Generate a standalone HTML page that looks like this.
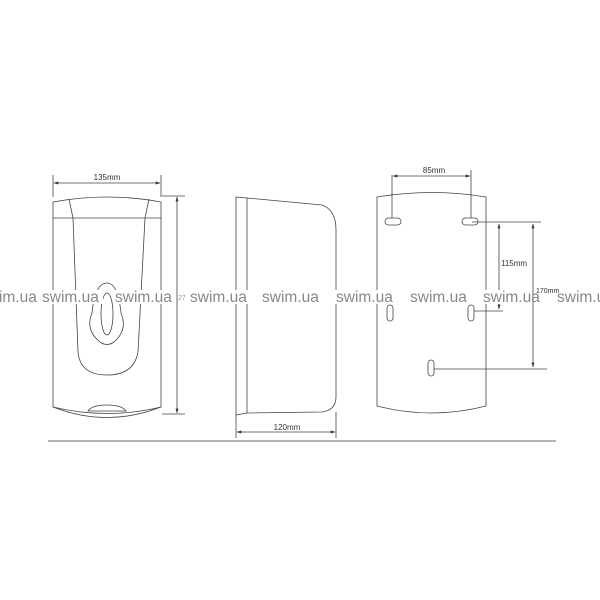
<!DOCTYPE html>
<html><head><style>body{margin:0;background:#fff}svg{display:block}
.w{font-family:"Liberation Sans",sans-serif;font-size:15.5px;fill:#888}</style></head><body>
<svg width="600" height="600" viewBox="0 0 600 600" fill="none" stroke="#444" stroke-width="0.8">
<defs><marker id="a" viewBox="0 0 10 10" refX="9" refY="5" markerWidth="6" markerHeight="6" orient="auto-start-reverse"><path d="M0,2 L10,5 L0,8z" fill="#333" stroke="none"/></marker></defs>
<!-- front -->
<line x1="53" y1="175" x2="53" y2="197"/><line x1="161" y1="175" x2="161" y2="197"/>
<line x1="54" y1="183" x2="160" y2="183" marker-start="url(#a)" marker-end="url(#a)"/>
<text x="107" y="180" font-family="Liberation Sans" font-size="8" fill="#333" stroke="none" text-anchor="middle">135mm</text>
<path d="M53,202 Q107,192 161,202 L161,407 Q107,420 53,407Z"/>
<line x1="53" y1="218" x2="161" y2="218"/>
<path d="M69,199 L73,218 L78,352 Q80,375 107,375 Q134,375 138,352 L145,218 L149,199"/>
<path d="M107,283 Q95,283 92,313 Q85,330 100,342 Q107,347 114,342 Q128,330 121,313 Q118,283 107,283Z"/>
<ellipse cx="107" cy="314" rx="6" ry="21"/>
<path d="M53,407 Q107,428 161,407"/><path d="M88,411 Q92,405 107,405 Q122,405 126,411Z"/>
<line x1="162" y1="196" x2="185" y2="196"/><line x1="162" y1="414" x2="185" y2="414"/>
<line x1="177" y1="197" x2="177" y2="413" marker-start="url(#a)" marker-end="url(#a)"/>
<!-- side -->
<path d="M236,197 L247,198 L322,205 Q336,210 336,230 L336,397 Q336,410 322,412 L247,413 L236,415Z"/>
<line x1="247" y1="198" x2="247" y2="413"/>
<line x1="236" y1="415" x2="236" y2="438"/><line x1="336" y1="412" x2="336" y2="438"/>
<line x1="237" y1="432" x2="335" y2="432" marker-start="url(#a)" marker-end="url(#a)"/>
<text x="287" y="430" font-family="Liberation Sans" font-size="8" fill="#333" stroke="none" text-anchor="middle">120mm</text>
<!-- back -->
<path d="M377,197 Q432,188 486,197 L486,406 Q432,420 377,406Z"/>
<rect x="385" y="218" width="16" height="7" rx="3.5"/><rect x="462" y="218" width="16" height="7" rx="3.5"/>
<rect x="387" y="305" width="6" height="16" rx="3"/><rect x="468" y="305" width="6" height="16" rx="3"/>
<rect x="428" y="360" width="6" height="16" rx="3"/>
<line x1="392" y1="175" x2="392" y2="218"/><line x1="471" y1="170" x2="471" y2="218"/>
<line x1="393" y1="176" x2="470" y2="176" marker-start="url(#a)" marker-end="url(#a)"/>
<text x="434" y="173" font-family="Liberation Sans" font-size="8" fill="#333" stroke="none" text-anchor="middle">85mm</text>
<line x1="472" y1="222" x2="541" y2="222"/><line x1="474" y1="311" x2="503" y2="311"/><line x1="434" y1="369" x2="547" y2="369"/>
<line x1="499" y1="224" x2="499" y2="309" marker-start="url(#a)" marker-end="url(#a)"/>
<line x1="533" y1="224" x2="533" y2="367" marker-start="url(#a)" marker-end="url(#a)"/>
<text x="501" y="266" font-family="Liberation Sans" font-size="8" fill="#333" stroke="none">115mm</text>
<line x1="48" y1="441" x2="556" y2="441" stroke="#999" stroke-width="1.5"/>
<g stroke="none">
<rect x="-8" y="290" width="30" height="14" fill="#fff"/><rect x="41" y="290" width="62" height="14" fill="#fff"/><rect x="114" y="290" width="62" height="14" fill="#fff"/><rect x="190" y="290" width="60" height="14" fill="#fff"/><rect x="261" y="290" width="62" height="14" fill="#fff"/><rect x="335" y="290" width="62" height="14" fill="#fff"/><rect x="409" y="290" width="62" height="14" fill="#fff"/><rect x="482" y="290" width="50" height="14" fill="#fff"/><rect x="556" y="290" width="62" height="14" fill="#fff"/>
<text class="w" x="-20" y="302">swim.ua</text><text class="w" x="42" y="302">swim.ua</text><text class="w" x="115" y="302">swim.ua</text><text class="w" x="190" y="302">swim.ua</text><text class="w" x="262" y="302">swim.ua</text><text class="w" x="336" y="302">swim.ua</text><text class="w" x="410" y="302">swim.ua</text><text class="w" x="483" y="302">swim.ua</text><text class="w" x="557" y="302">swim.ua</text>
<text x="178" y="300" font-family="Liberation Sans" font-size="7" fill="#999">27</text>
<text x="536" y="293" font-family="Liberation Sans" font-size="7" fill="#333">170mm</text>
</g>
</svg></body></html>
